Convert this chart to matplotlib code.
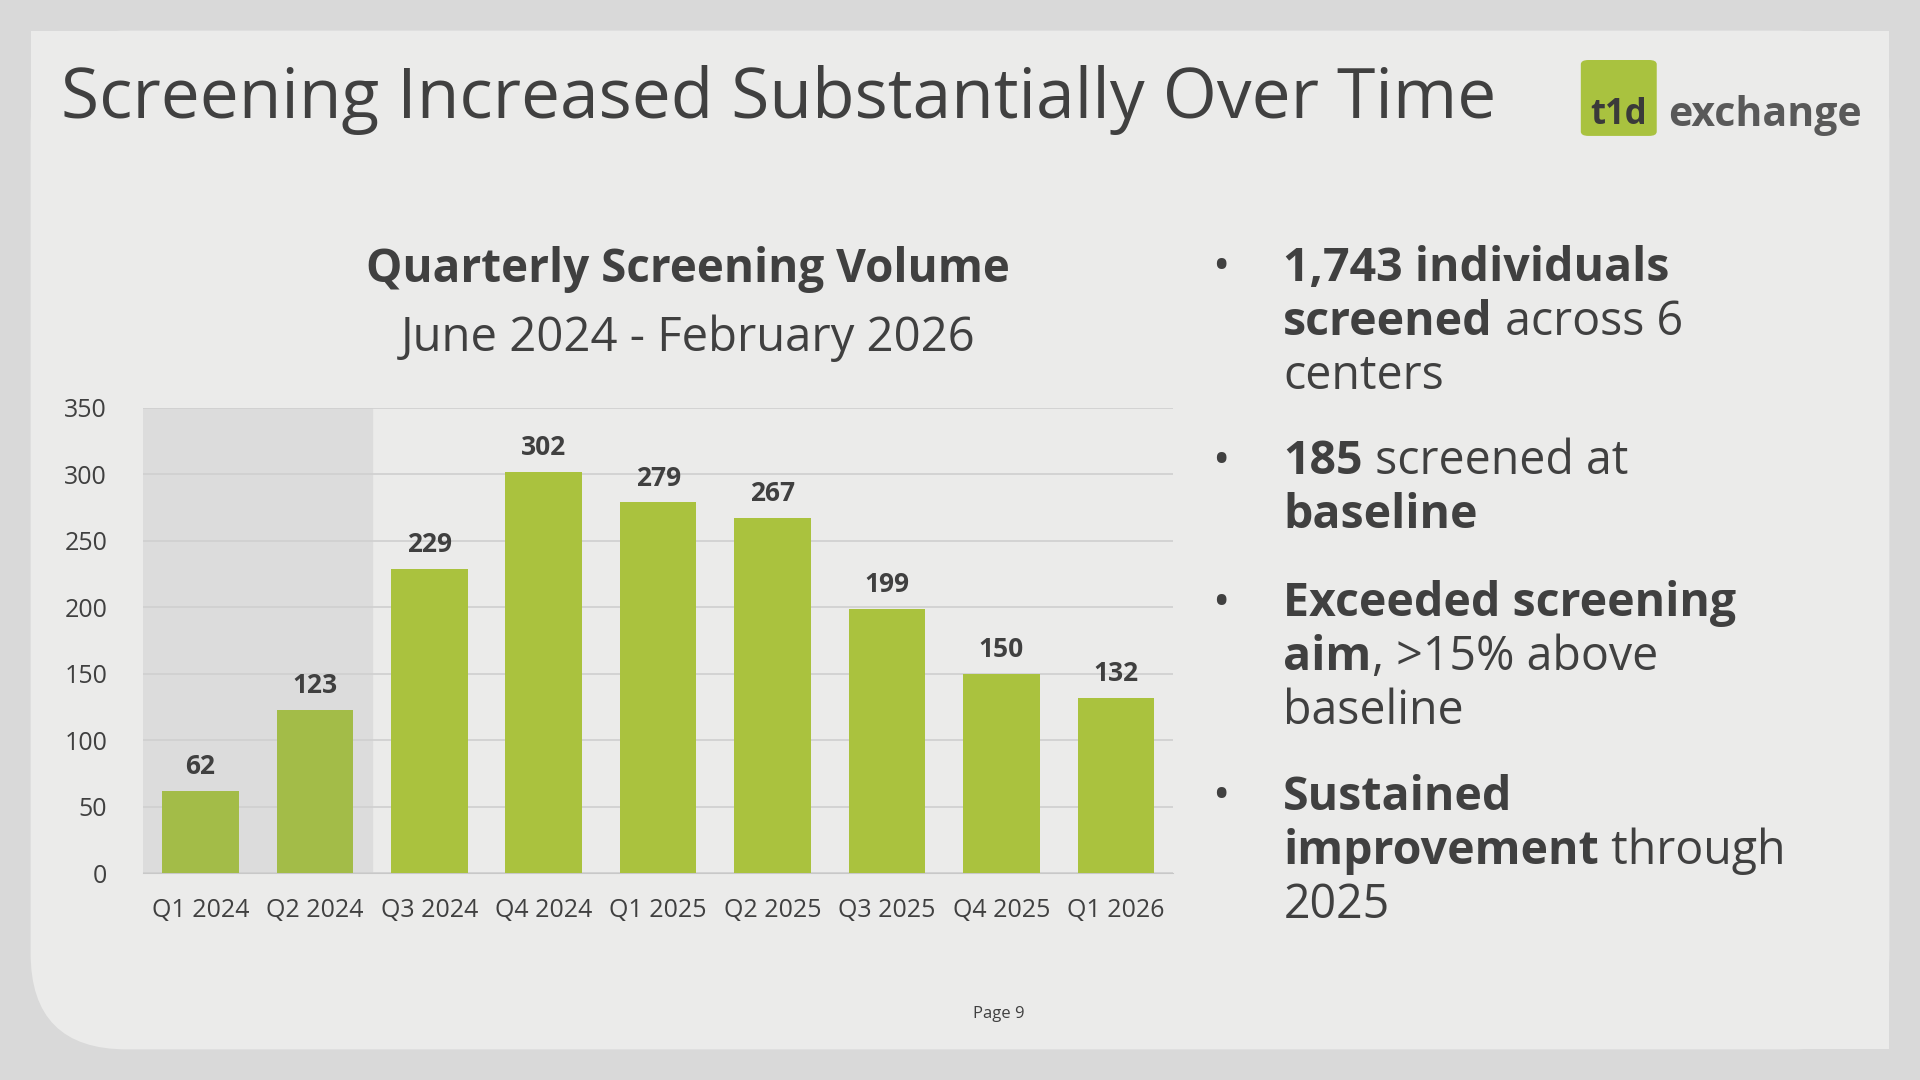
import matplotlib.pyplot as plt
from matplotlib.patches import FancyBboxPatch, Rectangle

quarters = ["Q1 2024", "Q2 2024", "Q3 2024", "Q4 2024", "Q1 2025",
            "Q2 2025", "Q3 2025", "Q4 2025", "Q1 2026"]
volumes = [62, 123, 229, 302, 279, 267, 199, 150, 132]
shaded = 2  # first quarters are shaded (pre-period)

bullets = [
    [[("1,743 individuals", True)], [("screened", True), (" across 6", False)], [("centers", False)]],
    [[("185", True), (" screened at", False)], [("baseline", True)]],
    [[("Exceeded screening", True)], [("aim", True), (", >15% above", False)], [("baseline", False)]],
    [[("Sustained", True)], [("improvement", True), (" through", False)], [("2025", False)]],
]
bullet_y = [219, 377, 493, 651]

FONT = "Open Sans"
DARK = "#404040"
W, H = 1568, 882


def fx(x):
    return x / W


def fy(y):
    return 1 - y / H


fig = plt.figure(figsize=(19.2, 10.8), dpi=100)
fig.patch.set_facecolor("#d9d9d9")
panel = FancyBboxPatch((fx(25), fy(857)), fx(1543) - fx(25), fy(25) - fy(857),
                       boxstyle="round,pad=0,rounding_size=0.05", transform=fig.transFigure,
                       facecolor="#ebebea", edgecolor="none", mutation_aspect=1.78, zorder=-10)
fig.add_artist(panel)
fig.add_artist(Rectangle((fx(300), fy(857)), fx(1543) - fx(300), fy(25) - fy(857),
                         transform=fig.transFigure, facecolor="#ebebea", edgecolor="none", zorder=-10))
fig.add_artist(Rectangle((fx(25), fy(300)), fx(1543) - fx(25), fy(25) - fy(300),
                         transform=fig.transFigure, facecolor="#ebebea", edgecolor="none", zorder=-10))

fig.text(fx(50), fy(82), "Screening Increased Substantially Over Time", fontsize=50,
         family=FONT, color=DARK, va="center")

# logo
fig.add_artist(FancyBboxPatch((fx(1291), fy(111)), fx(1353) - fx(1291), fy(49) - fy(111),
                              boxstyle="round,pad=0,rounding_size=0.004", transform=fig.transFigure,
                              facecolor="#a9c23f", edgecolor="none"))
fig.text(fx(1322), fy(94), "t1d", fontsize=25, family=FONT, weight="bold", color="#3a3a3a",
         ha="center", va="center")
fig.text(fx(1362), fy(94), "exchange", fontsize=29.5, family=FONT, weight="bold", color="#595959",
         va="center")

fig.text(fx(562), fy(220), "Quarterly Screening Volume", fontsize=33, family=FONT,
         weight="bold", color=DARK, ha="center", va="center")
fig.text(fx(562), fy(276), "June 2024 - February 2026", fontsize=34, family=FONT,
         color=DARK, ha="center", va="center")

ax = fig.add_axes([fx(117), fy(713), fx(958) - fx(117), fy(333) - fy(713)])
ax.set_facecolor("none")
x = range(len(quarters))
colors = ["#a3bc48" if i < shaded else "#aac23e" for i in x]
ax.bar(x, volumes, width=0.67, color=colors, zorder=3)
ax.axvspan(-0.5, shaded - 0.5, color="#dcdcdc", zorder=1)
for i, v in zip(x, volumes):
    ax.text(i, v + 8, str(v), ha="center", va="bottom", fontsize=19, family=FONT,
            weight="bold", color=DARK, zorder=4)
ax.set_xlim(-0.5, len(quarters) - 0.5)
ax.set_ylim(0, 350)
ax.set_yticks(range(0, 351, 50))
ax.yaxis.grid(True, color="#cfcfcf", linewidth=1.2, zorder=0)
for s in ["top", "right", "left"]:
    ax.spines[s].set_visible(False)
ax.spines["bottom"].set_color("#c8c8c8")
ax.set_xticks(list(x))
ax.set_xticklabels(quarters)
ax.tick_params(length=0, labelsize=18, colors="#404040", pad=18)
ax.tick_params(axis="y", pad=26)
for lab in ax.get_xticklabels() + ax.get_yticklabels():
    lab.set_family(FONT)

# bullets
fig.canvas.draw()
renderer = fig.canvas.get_renderer()
for lines, y0 in zip(bullets, bullet_y):
    fig.text(fx(997), fy(y0), "•", fontsize=33, family=FONT, color=DARK, va="center", ha="center")
    for k, line in enumerate(lines):
        xpos = fx(1048)
        for seg, bold in line:
            t = fig.text(xpos, fy(y0 + 44 * k), seg, fontsize=33.5, family=FONT, color=DARK,
                         weight="bold" if bold else "normal", va="center")
            bb = t.get_window_extent(renderer)
            xpos += bb.width / fig.bbox.width

fig.text(fx(816), fy(828), "Page 9", fontsize=12, family=FONT, color=DARK, ha="center", va="center")

fig.savefig("out.png", dpi=100, facecolor=fig.get_facecolor())
